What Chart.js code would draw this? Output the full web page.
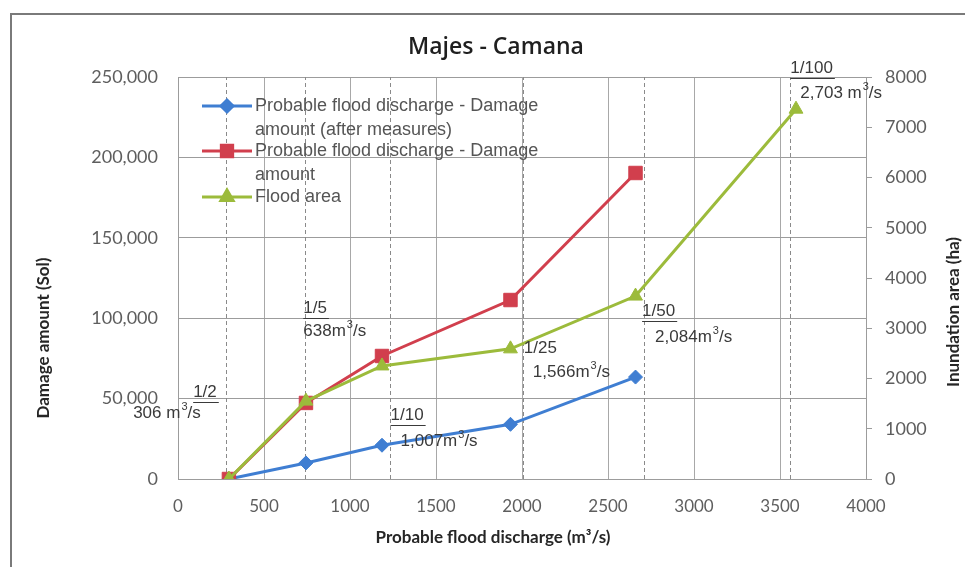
<!DOCTYPE html>
<html>
<head>
<meta charset="utf-8">
<title>Majes - Camana</title>
<script src="https://cdn.jsdelivr.net/npm/chart.js@4/dist/chart.umd.min.js"></script>
<style>
  html, body { margin: 0; padding: 0; background: #fff; }
  #wrap { width: 965px; height: 567px; position: relative; }
</style>
</head>
<body>
<div id="wrap"><canvas id="c" width="965" height="567"></canvas></div>
<script>
// Probable flood discharge (m3/s) at each computed return period
const discharge = [296, 744, 1186, 1933, 2660];
const dischargeArea = [296, 744, 1186, 1933, 2660, 3593];

// Damage amount (Sol)
const damageAfter = [0, 10000, 21000, 34000, 63400];
const damageBefore = [0, 47300, 76500, 111300, 190300];

// Inundation area (ha)
const floodArea = [0, 1550, 2250, 2590, 3640, 7360];

// Return period markers (dashed verticals) and their labels
const periodLineX = [280, 740, 1230, 2005, 2710, 3560];
const periodLabels = ['1/2', '1/5', '1/10', '1/25', '1/50', '1/100'];
const periodDischarge = ['306 m', '638m', '1,007m', '1,566m', '2,084m', '2,703 m'];

const seriesNames = [
  ['Probable flood discharge - Damage', 'amount (after measures)'],
  ['Probable flood discharge - Damage', 'amount'],
  ['Flood area']
];

const BLUE = '#3f7ed2', RED = '#d13f4d', GREEN = '#9cbb3b';
const GRID = '#9c9c9c';
const TEXT = '#3a3a3a';
const LEGEND_TEXT = '#555555';
const TICK = '#5e5e5e';
const NOTE_FONT = '17px "Liberation Sans", Arial, sans-serif';
const SUP_FONT = '11px "Liberation Sans", Arial, sans-serif';

const pts = (xs, ys) => xs.map((x, i) => ({ x, y: ys[i] }));

// placement of the period captions relative to their dashed line (px)
const periodLayout = [
  { dx1: -33, y1: 392, dx2: -93, y2: 413, underline: true },
  { dx1: -2,  y1: 308, dx2: -2,  y2: 331, underline: true },
  { dx1: 1,   y1: 415, dx2: 11,  y2: 441, underline: true },
  { dx1: 1,   y1: 348, dx2: 10,  y2: 372, underline: false },
  { dx1: -2,  y1: 311, dx2: 11,  y2: 337, underline: true },
  { dx1: 0,   y1: 68,  dx2: 10,  y2: 93,  underline: true }
];

const framePlugin = {
  id: 'frame',
  beforeDraw(chart) {
    const ctx = chart.ctx;
    ctx.save();
    ctx.fillStyle = '#fff';
    ctx.fillRect(0, 0, chart.width, chart.height);
    ctx.strokeStyle = '#7a7a7a';
    ctx.lineWidth = 2;
    ctx.beginPath();
    ctx.moveTo(11, chart.height);
    ctx.lineTo(11, 14);
    ctx.lineTo(chart.width, 14);
    ctx.stroke();
    ctx.restore();
  }
};

const periodPlugin = {
  id: 'periods',
  beforeDatasetsDraw(chart) {
    const ctx = chart.ctx, xs = chart.scales.x, a = chart.chartArea;
    ctx.save();
    ctx.strokeStyle = '#8a8a8a';
    ctx.lineWidth = 1;
    ctx.setLineDash([4, 3]);
    periodLineX.forEach(v => {
      const px = Math.round(xs.getPixelForValue(v)) + 0.5;
      ctx.beginPath();
      ctx.moveTo(px, a.bottom);
      ctx.lineTo(px, a.top);
      ctx.stroke();
    });
    ctx.restore();
  },
  afterDraw(chart) {
    const ctx = chart.ctx, xs = chart.scales.x;
    ctx.save();
    ctx.fillStyle = TEXT;
    ctx.strokeStyle = TEXT;
    ctx.textBaseline = 'middle';
    ctx.textAlign = 'left';
    periodLabels.forEach((lab, i) => {
      const L = periodLayout[i];
      const px = xs.getPixelForValue(periodLineX[i]);
      ctx.font = NOTE_FONT;
      const x1 = px + L.dx1;
      ctx.fillText(lab, x1, L.y1);
      if (L.underline) {
        const w = ctx.measureText(lab).width;
        ctx.lineWidth = 1;
        ctx.beginPath();
        ctx.moveTo(x1, L.y1 + 10.5);
        ctx.lineTo(x1 + w + 2, L.y1 + 10.5);
        ctx.stroke();
      }
      let x2 = px + L.dx2;
      ctx.fillText(periodDischarge[i], x2, L.y2);
      x2 += ctx.measureText(periodDischarge[i]).width;
      ctx.font = SUP_FONT;
      ctx.fillText('3', x2 + 1, L.y2 - 6);
      x2 += ctx.measureText('3').width + 1;
      ctx.font = NOTE_FONT;
      ctx.fillText('/s', x2, L.y2);
    });
    ctx.restore();
  }
};

const textPlugin = {
  id: 'texts',
  afterDraw(chart) {
    const ctx = chart.ctx;
    ctx.save();
    // title
    ctx.fillStyle = '#1f1f1f';
    ctx.textAlign = 'center';
    ctx.textBaseline = 'middle';
    ctx.font = '600 23px "Open Sans", sans-serif';
    ctx.fillText('Majes - Camana', 496, 47);

    // axis titles
    ctx.font = 'bold 17px Lato, sans-serif';
    ctx.fillStyle = '#262626';
    ctx.fillText('Probable flood discharge (m\u00B3/s)', 493, 538);
    ctx.save();
    ctx.translate(44, 338);
    ctx.rotate(-Math.PI / 2);
    ctx.fillText('Damage amount (Sol)', 0, 0);
    ctx.restore();
    ctx.save();
    ctx.translate(954, 312);
    ctx.rotate(-Math.PI / 2);
    ctx.fillText('Inundation area (ha)', 0, 0);
    ctx.restore();

    // legend
    const colors = [BLUE, RED, GREEN];
    const styles = ['rectRot', 'rect', 'triangle'];
    const radii = [6, 8, 7];
    const rows = [106, 151, 197];
    ctx.textAlign = 'left';
    ctx.font = '18px "Liberation Sans", Arial, sans-serif';
    rows.forEach((y, i) => {
      ctx.strokeStyle = colors[i];
      ctx.lineWidth = 3;
      ctx.beginPath();
      ctx.moveTo(202, y);
      ctx.lineTo(252, y);
      ctx.stroke();
      ctx.fillStyle = colors[i];
      Chart.helpers.drawPoint(ctx, {
        pointStyle: styles[i], radius: radii[i], rotation: 0, borderWidth: 1
      }, 227, y);
      ctx.fillStyle = LEGEND_TEXT;
      seriesNames[i].forEach((line, k) => ctx.fillText(line, 255, y + k * 24));
    });
    ctx.restore();
  }
};

const withCommas = v => v.toLocaleString('en-US');
const plain = v => String(v);

new Chart(document.getElementById('c'), {
  type: 'scatter',
  data: {
    datasets: [
      {
        label: 'Probable flood discharge - Damage amount (after measures)',
        data: pts(discharge, damageAfter),
        yAxisID: 'y',
        showLine: true,
        borderColor: BLUE, backgroundColor: BLUE,
        borderWidth: 3, pointStyle: 'rectRot', pointRadius: 7, pointBorderWidth: 1,
        order: 2
      },
      {
        label: 'Probable flood discharge - Damage amount',
        data: pts(discharge, damageBefore),
        yAxisID: 'y',
        showLine: true,
        borderColor: RED, backgroundColor: RED,
        borderWidth: 3, pointStyle: 'rect', pointRadius: 9.5, pointBorderWidth: 1,
        order: 1
      },
      {
        label: 'Flood area',
        data: pts(dischargeArea, floodArea),
        yAxisID: 'y2',
        showLine: true,
        borderColor: GREEN, backgroundColor: GREEN,
        borderWidth: 3, pointStyle: 'triangle', pointRadius: 8, pointBorderWidth: 1,
        order: 0
      }
    ]
  },
  options: {
    responsive: false,
    animation: false,
    devicePixelRatio: 1,
    layout: { padding: { top: 77, left: 0, right: 0, bottom: 0 } },
    plugins: { legend: { display: false }, tooltip: { enabled: false }, title: { display: false } },
    elements: { line: { tension: 0 } },
    scales: {
      x: {
        type: 'linear', min: 0, max: 4000,
        ticks: { stepSize: 500, padding: 17, color: TICK, font: { family: 'Lato', size: 17 }, maxRotation: 0, callback: plain },
        grid: { color: '#a8a8a8', drawTicks: false },
        border: { color: GRID },
        afterFit(s) { s.height = 88; }
      },
      y: {
        position: 'left', min: 0, max: 250000,
        ticks: { stepSize: 50000, padding: 20, color: TICK, font: { family: 'Lato', size: 18 }, callback: withCommas },
        grid: { color: GRID, drawTicks: false },
        border: { color: GRID },
        afterFit(s) { s.width = 178; }
      },
      y2: {
        position: 'right', min: 0, max: 8000,
        ticks: { stepSize: 1000, padding: 13, color: TICK, font: { family: 'Lato', size: 18 }, callback: plain },
        grid: { drawOnChartArea: false, color: GRID, tickLength: 6 },
        border: { color: GRID },
        afterFit(s) { s.width = 99; }
      }
    }
  },
  plugins: [framePlugin, periodPlugin, textPlugin]
});
</script>
</body>
</html>
